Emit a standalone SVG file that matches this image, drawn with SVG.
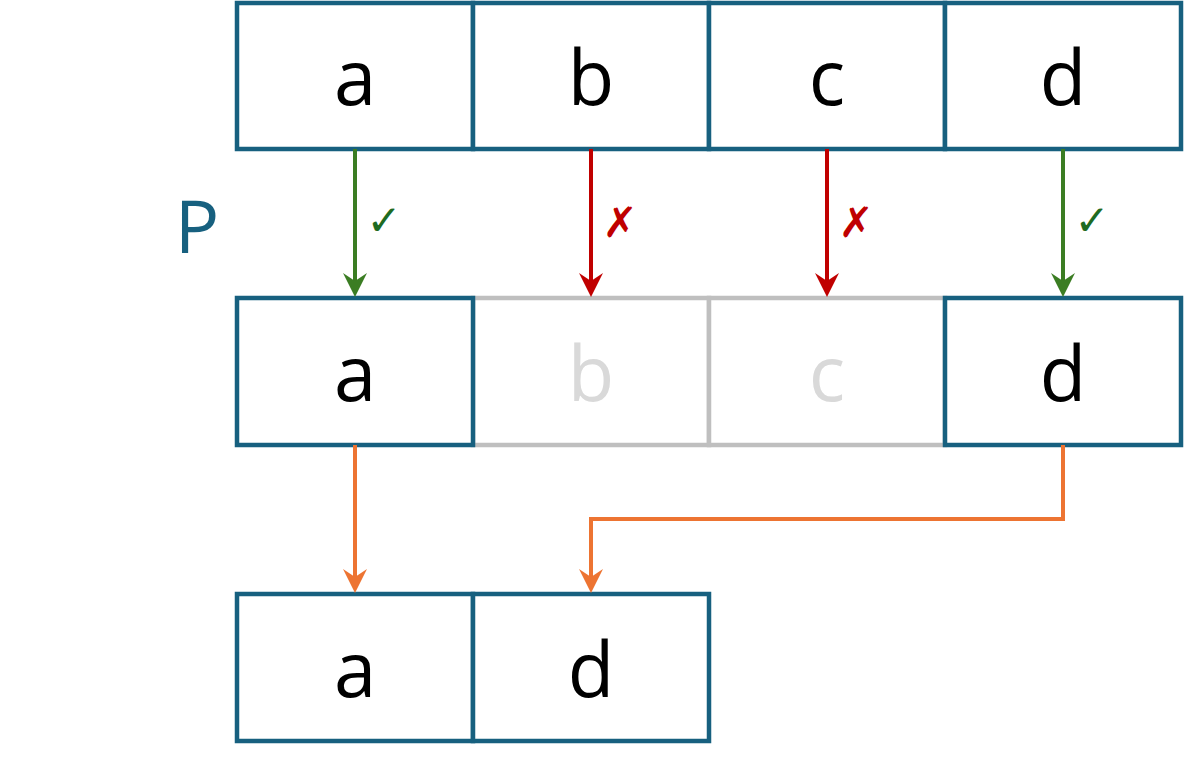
<svg xmlns="http://www.w3.org/2000/svg" width="1184" height="768" viewBox="0 0 1184 768">
<style>
.cell{fill:#fff;stroke:#17607f;stroke-width:4.5}
.dim{fill:#fff;stroke:#bfbfbf;stroke-width:4.5}
.t{font-family:"Open Sans","Noto Sans",sans-serif;font-size:76px;text-anchor:middle;fill:#000}
.td{fill:#d9d9d9}
.g{stroke:#3b7d23;stroke-width:4;fill:none}
.r{stroke:#c00000;stroke-width:4;fill:none}
.o{stroke:#ed7432;stroke-width:4;fill:none}
.mk{font-family:"DejaVu Sans",sans-serif;font-size:42px;text-anchor:middle}
</style>
<rect width="1184" height="768" fill="#fff"/>
<g id="row1">
<g id="r1a"><rect class="cell" x="237" y="3" width="236" height="146"/><text class="t" x="355" y="105">a</text></g>
<g id="r1b"><rect class="cell" x="473" y="3" width="236" height="146"/><text class="t" x="591" y="105">b</text></g>
<g id="r1c"><rect class="cell" x="709" y="3" width="236" height="146"/><text class="t" x="827" y="105">c</text></g>
<g id="r1d"><rect class="cell" x="945" y="3" width="236" height="146"/><text class="t" x="1063" y="105">d</text></g>
</g>
<g id="row2">
<g id="r2b"><rect class="dim" x="473" y="298" width="236" height="147"/><text class="t td" x="591" y="401">b</text></g>
<g id="r2c"><rect class="dim" x="709" y="298" width="236" height="147"/><text class="t td" x="827" y="401">c</text></g>
<g id="r2a"><rect class="cell" x="237" y="298" width="236" height="147"/><text class="t" x="355" y="401">a</text></g>
<g id="r2d"><rect class="cell" x="945" y="298" width="236" height="147"/><text class="t" x="1063" y="401">d</text></g>
</g>
<g id="row3">
<g id="r3a"><rect class="cell" x="237" y="594" width="236" height="147"/><text class="t" x="355" y="697">a</text></g>
<g id="r3d"><rect class="cell" x="473" y="594" width="236" height="147"/><text class="t" x="591" y="697">d</text></g>
</g>
<g id="label-p"><text x="197" y="253" font-family="'Open Sans','Noto Sans',sans-serif" font-size="74" text-anchor="middle" fill="#17607f">P</text></g>
<g id="connectors">
<line class="g" x1="355" y1="149" x2="355" y2="282"/>
<path d="M355 297L343 273L355 281L367 273Z" fill="#3b7d23"/>
<line class="r" x1="591" y1="149" x2="591" y2="282"/>
<path d="M591 297L579 273L591 281L603 273Z" fill="#c00000"/>
<line class="r" x1="827" y1="149" x2="827" y2="282"/>
<path d="M827 297L815 273L827 281L839 273Z" fill="#c00000"/>
<line class="g" x1="1063" y1="149" x2="1063" y2="282"/>
<path d="M1063 297L1051 273L1063 281L1075 273Z" fill="#3b7d23"/>
<line class="o" x1="355" y1="445" x2="355" y2="578"/>
<path d="M355 593L343 569L355 577L367 569Z" fill="#ed7432"/>
<path class="o" d="M1063 445V519H591V578"/>
<path d="M591 593L579 569L591 577L603 569Z" fill="#ed7432"/>
<text class="mk" x="384" y="235" fill="#1e6b22">✓</text>
<text class="mk" x="620" y="237" fill="#c00000">✗</text>
<text class="mk" x="856" y="237" fill="#c00000">✗</text>
<text class="mk" x="1092" y="235" fill="#1e6b22">✓</text>
</g>
</svg>
